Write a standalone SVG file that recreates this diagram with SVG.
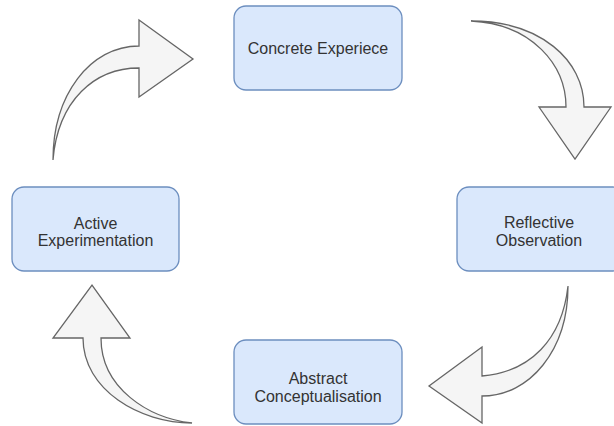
<svg xmlns="http://www.w3.org/2000/svg" width="614" height="426" viewBox="0 0 614 426">
<style>
.box{fill:#dae8fc;stroke:#6c8ebf;stroke-width:1.3}
.lbl{font-family:"Liberation Sans",Arial,sans-serif;font-size:16px;fill:#333333;text-anchor:middle}
.arr{fill:#f5f5f5;stroke:#666666;stroke-width:1.3;stroke-linejoin:miter}
</style>
<rect width="614" height="426" fill="#ffffff"/>
<g id="connectors">
<path class="arr" d="M53,160 C53,95 90,46 139,46 L139,20 L193,59 L139,97 L139,68 C95,68 58,100 53,160 Z"/>
<path class="arr" d="M471,21 C540,21 584,60 584,107 L611,107 L575,159 L539,107 L566,107 C566,65 532,24 471,21 Z"/>
<path class="arr" d="M568,286 C568,350 530,396 482,396 L482,423 L429,386 L482,347 L482,376 C530,372 562,340 568,286 Z"/>
<path class="arr" d="M192,423 C140,423 83,390 83,338 L53,338 L92,285 L130,338 L101,338 C101,388 148,418 192,423 Z"/>
</g>
<g id="concrete">
<rect class="box" x="234" y="6" width="168" height="84" rx="12"/>
<text class="lbl" x="318" y="54">Concrete Experiece</text>
</g>
<g id="reflective">
<rect class="box" x="457" y="187" width="168" height="84" rx="12"/>
<text class="lbl" x="539" y="228">Reflective</text>
<text class="lbl" x="539" y="246">Observation</text>
</g>
<g id="abstract">
<rect class="box" x="234" y="340" width="168" height="84" rx="12"/>
<text class="lbl" x="318" y="384">Abstract</text>
<text class="lbl" x="318" y="402">Conceptualisation</text>
</g>
<g id="active">
<rect class="box" x="12" y="187" width="167" height="84" rx="12"/>
<text class="lbl" x="95.5" y="229">Active</text>
<text class="lbl" x="95.5" y="246">Experimentation</text>
</g>
</svg>
